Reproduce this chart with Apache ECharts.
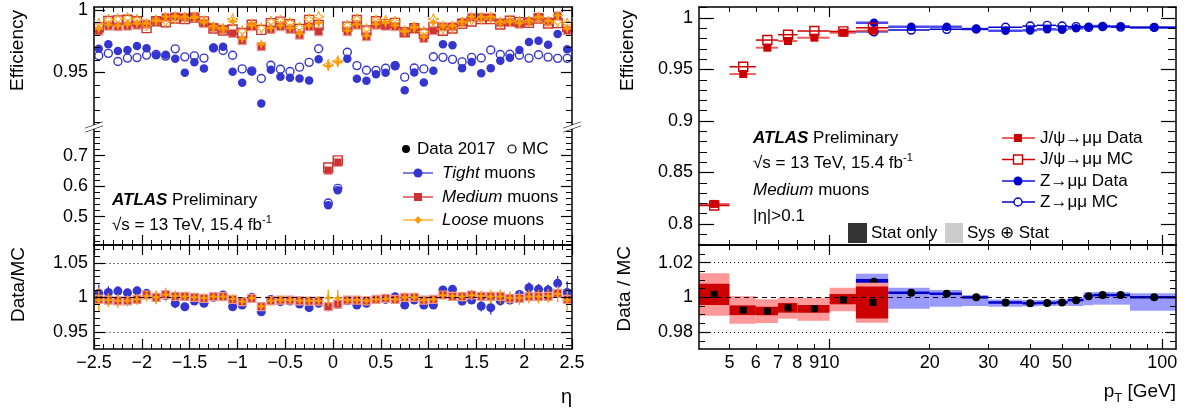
<!DOCTYPE html>
<html><head><meta charset="utf-8">
<script src="https://cdn.jsdelivr.net/npm/echarts@6/dist/echarts.min.js"></script>
<style>html,body{margin:0;padding:0;background:#fff}#c{width:1188px;height:414px}</style>
</head><body><div id="c"></div>
<script>
// ================= DATA =================
const etaCenters = [-2.45,-2.35,-2.25,-2.15,-2.05,-1.95,-1.85,-1.75,-1.65,-1.55,-1.45,-1.35,-1.25,-1.15,-1.05,-0.95,-0.85,-0.75,-0.65,-0.55,-0.45,-0.35,-0.25,-0.15,-0.05,0.05,0.15,0.25,0.35,0.45,0.55,0.65,0.75,0.85,0.95,1.05,1.15,1.25,1.35,1.45,1.55,1.65,1.75,1.85,1.95,2.05,2.15,2.25,2.35,2.45];
const etaTickLabels = [-2.5,-2,-1.5,-1,-0.5,0,0.5,1,1.5,2,2.5];

const tightData = [0.9689,0.9724,0.967,0.9678,0.971,0.9692,0.9636,0.9641,0.9609,0.9497,0.958,0.9532,0.9697,0.9705,0.9505,0.9417,0.9508,0.9252,0.9521,0.9465,0.9457,0.9452,0.9436,0.9604,0.538,0.587,0.9609,0.9449,0.9433,0.9486,0.9497,0.9556,0.9358,0.95,0.942,0.9513,0.9724,0.9716,0.9534,0.9582,0.9494,0.9534,0.9593,0.9617,0.9678,0.9742,0.9753,0.9721,0.9806,0.9684];
const tightMC = [0.9633,0.9652,0.9587,0.9614,0.9618,0.9638,0.9644,0.963,0.9688,0.9624,0.9632,0.9614,0.9695,0.9675,0.9637,0.9528,0.9512,0.9451,0.9557,0.9525,0.9507,0.9542,0.958,0.9689,0.545,0.593,0.9661,0.9554,0.9517,0.9516,0.9533,0.9552,0.9462,0.9535,0.9528,0.9625,0.962,0.9604,0.9584,0.962,0.9615,0.9679,0.9643,0.9645,0.9637,0.9614,0.9641,0.9622,0.9612,0.9612];
const mediumData = [0.983,0.987,0.9865,0.987,0.9878,0.9886,0.9908,0.994,0.9945,0.994,0.9937,0.9892,0.986,0.9844,0.9812,0.9753,0.9865,0.9705,0.9844,0.9865,0.9844,0.9798,0.9865,0.9825,0.652,0.678,0.9825,0.9878,0.9785,0.9878,0.987,0.9865,0.982,0.9852,0.9772,0.9833,0.9865,0.9865,0.9897,0.994,0.994,0.994,0.9897,0.9897,0.9886,0.9905,0.994,0.9905,0.995,0.9833];
const mediumMC = [0.986,0.991,0.9915,0.992,0.9908,0.9853,0.9908,0.99,0.993,0.9925,0.9937,0.9907,0.985,0.9834,0.9842,0.9815,0.988,0.9839,0.9893,0.9905,0.9884,0.9847,0.9919,0.9878,0.661,0.6846,0.9865,0.9918,0.9834,0.9908,0.9885,0.9895,0.982,0.9852,0.9811,0.9863,0.9832,0.985,0.9887,0.9906,0.9925,0.9925,0.9882,0.9912,0.9901,0.9895,0.993,0.989,0.9893,0.9863];
const looseData = [0.985,0.988,0.9875,0.9885,0.989,0.9895,0.9915,0.9945,0.995,0.9945,0.994,0.99,0.987,0.9855,0.9905,0.977,0.9875,0.9725,0.9855,0.9875,0.9855,0.981,0.9875,0.9895,0.955,0.958,0.9835,0.9885,0.9795,0.9885,0.9895,0.9875,0.983,0.986,0.9785,0.9897,0.9875,0.9875,0.9905,0.9945,0.9945,0.9945,0.9905,0.9905,0.9895,0.9915,0.9945,0.9915,0.9955,0.985];
const looseMC = [0.989,0.992,0.9925,0.9935,0.992,0.9875,0.9915,0.9905,0.993,0.9935,0.994,0.991,0.986,0.9845,0.9925,0.983,0.9885,0.9853,0.9905,0.9915,0.9895,0.986,0.9925,0.9945,0.956,0.959,0.9875,0.9925,0.9845,0.9915,0.9915,0.9905,0.983,0.986,0.9825,0.9927,0.9845,0.9855,0.9895,0.9915,0.9925,0.9935,0.9895,0.9915,0.9905,0.9905,0.9935,0.9895,0.9905,0.989];

const tightRatio = [1.0058,1.0072,1.0091,1.0065,1.0094,1.0058,1.0,1.0024,0.9913,0.9864,0.9946,0.9913,1.0,1.0034,0.9864,0.9888,1.0,0.979,0.997,0.9937,0.9946,0.9903,0.985,0.9913,0.9864,0.9896,0.995,0.9888,0.9913,0.997,0.997,1.001,0.9888,0.996,0.9888,0.9888,1.0106,1.0116,0.9946,0.996,0.9874,0.985,0.995,0.996,1.0043,1.0139,1.0116,1.0106,1.0203,1.0072];
const mediumRatio = [0.997,0.996,0.995,0.995,0.997,1.0034,1.0,1.004,1.0015,1.0015,1.0,0.9985,1.001,1.001,0.997,0.9937,0.9985,0.9864,0.995,0.996,0.996,0.995,0.9946,0.9946,0.9864,0.9903,0.996,0.996,0.995,0.997,0.9985,0.997,1.0,1.0,0.996,0.997,1.0034,1.0015,1.001,1.0034,1.0015,1.0015,1.0015,0.9985,0.9985,1.001,1.001,1.0015,1.0058,0.997];
const looseRatio = [0.996,0.996,0.995,0.995,0.997,1.002,1.0,1.004,1.002,1.001,1.0,0.999,1.001,1.001,0.998,0.994,0.999,0.987,0.995,0.996,0.996,0.995,0.995,0.995,0.999,0.999,0.996,0.996,0.995,0.997,0.998,0.997,1.0,1.0,0.996,0.997,1.003,1.002,1.001,1.003,1.002,1.001,1.001,0.999,0.999,1.001,1.001,1.002,1.005,0.996];
const tightRatioErr = [0.013,0.009,0.007,0.006,0.006,0.006,0.008,0.006,0.007,0.005,0.005,0.005,0.004,0.004,0.004,0.004,0.004,0.004,0.004,0.004,0.004,0.004,0.004,0.004,0.006,0.006,0.004,0.004,0.004,0.004,0.004,0.004,0.004,0.004,0.004,0.004,0.005,0.005,0.006,0.005,0.008,0.01,0.007,0.006,0.006,0.008,0.008,0.008,0.011,0.016];
const mediumRatioErr = [0.006,0.004,0.004,0.004,0.003,0.003,0.003,0.003,0.003,0.003,0.003,0.003,0.003,0.003,0.003,0.003,0.003,0.003,0.003,0.003,0.003,0.003,0.003,0.003,0.004,0.004,0.003,0.003,0.003,0.003,0.003,0.003,0.003,0.003,0.003,0.003,0.003,0.003,0.003,0.003,0.003,0.003,0.003,0.003,0.003,0.003,0.003,0.004,0.004,0.006];
const looseRatioErr = [0.018,0.01,0.01,0.008,0.008,0.008,0.01,0.01,0.008,0.006,0.005,0.005,0.005,0.005,0.005,0.005,0.005,0.005,0.005,0.005,0.005,0.005,0.005,0.005,0.012,0.012,0.005,0.005,0.005,0.005,0.005,0.005,0.005,0.005,0.005,0.005,0.006,0.006,0.007,0.008,0.008,0.01,0.01,0.01,0.01,0.01,0.01,0.01,0.012,0.015];

const jpsiLo = [4,5,6,7,8,10,12];
const jpsiHi = [5,6,7,8,10,12,15];
const jpsiPt = [4.5,5.5,6.5,7.5,9,11,13.5];
const jpsiData = [0.8195,0.9456,0.9712,0.9777,0.9809,0.9857,0.9877];
const jpsiMC = [0.818,0.9527,0.9786,0.9838,0.9874,0.987,0.9905];
const jpsiRatio = [1.0017,0.9927,0.9921,0.994,0.9935,0.9986,0.9971];
const jpsiStatLo = [0.9956,0.9898,0.9897,0.9912,0.9912,0.996,0.9879];
const jpsiStatHi = [1.0078,0.9954,0.9946,0.9967,0.9956,1.0019,1.0063];
const jpsiSysLo = [0.9894,0.9848,0.9852,0.9877,0.9866,0.992,0.9854];
const jpsiSysHi = [1.0138,1.0007,0.9989,1.0,0.9996,1.0055,1.0084];

const zLo = [12,15,20,25,30,38,42,48,52,58,62,70,80];
const zHi = [15,20,25,30,38,42,48,52,58,62,70,80,110];
const zPt = [13.6,17.6,22.5,27.6,33.8,40.1,45.1,50,55.1,60.1,66.2,75,94.6];
const zData = [0.9955,0.9916,0.9916,0.9893,0.9877,0.988,0.989,0.9887,0.99,0.9916,0.9922,0.9919,0.9909];
const zMC = [0.9866,0.9883,0.989,0.9893,0.991,0.9922,0.9929,0.9922,0.9916,0.9909,0.9916,0.9912,0.9909];
const zRatio = [1.009,1.0026,1.0021,1.0,0.9971,0.9966,0.9968,0.9971,0.9984,1.0006,1.0013,1.0013,1.0];
const zStatLo = [1.0075,1.0021,1.0016,0.9995,0.9966,0.9961,0.9963,0.9966,0.9979,1.0001,1.0008,1.0008,0.9995];
const zStatHi = [1.0105,1.0031,1.0026,1.0005,0.9976,0.9971,0.9973,0.9976,0.9989,1.0011,1.0018,1.0018,1.0005];
const zSysLo = [1.0045,0.9934,0.9946,0.995,0.9946,0.9948,0.995,0.9952,0.995,0.9955,0.9958,0.9958,0.9923];
const zSysHi = [1.0135,1.0055,1.0042,1.0013,0.9988,0.9985,0.9985,0.9988,0.9998,1.0029,1.0031,1.003,1.0023];
const ptTickLabels = [5,6,7,8,9,10,20,30,40,50,100];

// ================= STYLE / LAYOUT =================
const FONT = '"Liberation Sans", Arial, Helvetica, sans-serif';
const BLUE = '#3535cf', RED = '#cc3333', ORANGE = '#ff9a00';
const JRED = '#cc0000', ZBLUE = '#0000cc';
const CLEAR = 'rgba(0,0,0,0)';
const STAR = 'path://M0,-6L1.6,-1.6L6,0L1.6,1.6L0,6L-1.6,1.6L-6,0L-1.6,-1.6Z';
const lg = v => Math.log10(v);
function rng(a, b, s) { const r = []; for (let v = a; v <= b + 1e-9; v += s) r.push(Math.round(v * 1e6) / 1e6); return r; }
const fmtNum = v => String(Math.round(v * 10000) / 10000);
const fmtEta = v => { const r = Math.round(v * 10) / 10; return r < 0 ? '\u2212' + Math.abs(r) : String(r); };
const fmtPt = v => String(Math.round(Math.pow(10, v)));

const grid = [
  {left:94, width:478, top:7, height:119},
  {left:94, width:478, top:126, height:119},
  {left:94, width:478, top:245, height:104},
  {left:699, width:477, top:7, height:238},
  {left:699, width:477, top:245, height:104}
].map(g => Object.assign({show:false, containLabel:false, outerBoundsMode:'none'}, g));

const xAxis = [], yAxis = [];
function mkAxis(g, pos, min, max, o) {
  const isX = (pos === 'top' || pos === 'bottom');
  const list = isX ? xAxis : yAxis;
  const common = {type:'value', gridIndex:g, position:pos, min, max, scale:true, silent:true,
    splitLine:{show:false}, splitArea:{show:false}, axisPointer:{show:false}, z:10};
  list.push(Object.assign({}, common, {
    axisLine:{show:o.line !== false, onZero:false, lineStyle:{color:'#000', width:1.5}},
    axisTick:o.major ? {show:true, inside:true, length:o.majorLen || 10, customValues:o.major, lineStyle:{color:'#000', width:1.2}} : {show:false},
    axisLabel:o.labels ? {show:true, customValues:o.labels, formatter:o.fmt || fmtNum, color:'#000', fontFamily:FONT, fontSize:18, margin:o.margin || 6, hideOverlap:false} : {show:false}
  }));
  const idx = list.length - 1;
  if (o.minor) list.push(Object.assign({}, common, {
    axisLine:{show:false, onZero:false},
    axisTick:{show:true, inside:true, length:o.minorLen || 5, customValues:o.minor, lineStyle:{color:'#000', width:1}},
    axisLabel:{show:false}
  }));
  return idx;
}

const etaMaj = rng(-2.5, 2.5, 0.5), etaMin = rng(-2.5, 2.5, 0.1);
const E0 = -2.5, E1 = 2.5;
const P0 = lg(4.05), P1 = lg(110);
const ptMaj = [10, 100].map(lg), ptMin = [5,6,7,8,9,20,30,40,50,60,70,80,90].map(lg);

// grid 0 : upper efficiency section (left)
const X0 = mkAxis(0, 'bottom', E0, E1, {line:false});
mkAxis(0, 'top', E0, E1, {major:etaMaj, minor:etaMin, majorLen:10, minorLen:5});
const Y0 = mkAxis(0, 'left', 0.9072, 1.0022, {major:[0.95,1], minor:rng(0.91,1,0.01), labels:[0.95,1], majorLen:11, minorLen:6});
mkAxis(0, 'right', 0.9072, 1.0022, {major:[0.95,1], minor:rng(0.91,1,0.01), majorLen:11, minorLen:6});
// grid 1 : lower efficiency section (left)
const X1 = mkAxis(1, 'bottom', E0, E1, {major:etaMaj, minor:etaMin, majorLen:10, minorLen:5});
const Y1 = mkAxis(1, 'left', 0.4075, 0.797, {major:[0.5,0.6,0.7], minor:rng(0.42,0.78,0.02), labels:[0.5,0.6,0.7], majorLen:11, minorLen:6});
mkAxis(1, 'right', 0.4075, 0.797, {major:[0.5,0.6,0.7], minor:rng(0.42,0.78,0.02), majorLen:11, minorLen:6});
// grid 2 : ratio (left)
const X2 = mkAxis(2, 'bottom', E0, E1, {major:etaMaj, minor:etaMin, labels:etaTickLabels, fmt:fmtEta, majorLen:10, minorLen:5, margin:5});
mkAxis(2, 'top', E0, E1, {major:etaMaj, minor:etaMin, majorLen:10, minorLen:5});
const Y2 = mkAxis(2, 'left', 0.925, 1.076, {major:[0.95,1,1.05], minor:rng(0.93,1.07,0.01), labels:[0.95,1,1.05], majorLen:11, minorLen:6});
mkAxis(2, 'right', 0.925, 1.076, {major:[0.95,1,1.05], minor:rng(0.93,1.07,0.01), majorLen:11, minorLen:6});
// grid 3 : efficiency (right)
const X3 = mkAxis(3, 'bottom', P0, P1, {major:ptMaj, minor:ptMin, majorLen:10, minorLen:5});
mkAxis(3, 'top', P0, P1, {major:ptMaj, minor:ptMin, majorLen:10, minorLen:5});
const Y3 = mkAxis(3, 'left', 0.7796, 1.0107, {major:[0.8,0.85,0.9,0.95,1], minor:rng(0.78,1.01,0.01), labels:[0.8,0.85,0.9,0.95,1], majorLen:15, minorLen:8});
mkAxis(3, 'right', 0.7796, 1.0107, {major:[0.8,0.85,0.9,0.95,1], minor:rng(0.78,1.01,0.01), majorLen:15, minorLen:8});
// grid 4 : ratio (right)
const X4 = mkAxis(4, 'bottom', P0, P1, {major:ptMaj, minor:ptMin, labels:ptTickLabels.map(lg), fmt:fmtPt, majorLen:10, minorLen:5, margin:5});
mkAxis(4, 'top', P0, P1, {major:ptMaj, minor:ptMin, majorLen:10, minorLen:5});
const Y4 = mkAxis(4, 'left', 0.9703, 1.0301, {major:[0.98,1,1.02], minor:rng(0.975,1.03,0.005), labels:[0.98,1,1.02], majorLen:11, minorLen:6});
mkAxis(4, 'right', 0.9703, 1.0301, {major:[0.98,1,1.02], minor:rng(0.975,1.03,0.005), majorLen:11, minorLen:6});

// ================= SERIES =================
const series = [];
const pts = (xs, ys) => xs.map((x, i) => [x, ys[i]]);
function sc(xi, yi, data, o) {
  series.push({type:'scatter', xAxisIndex:xi, yAxisIndex:yi, data, symbol:o.symbol, symbolSize:o.size,
    silent:true, clip:true, z:o.z || 3, animation:false,
    itemStyle:{color:o.fill, borderColor:o.stroke || o.fill, borderWidth:o.bw || 0, opacity:1}});
}
function errs(xi, yi, rows, color, width, z) {
  series.push({type:'custom', xAxisIndex:xi, yAxisIndex:yi, data:rows, clip:true, silent:true, z:z || 2, animation:false,
    encode:{x:[0,2,3], y:[1,4,5]},
    renderItem:(p, api) => {
      const x = api.value(0), y = api.value(1), x0 = api.value(2), x1 = api.value(3), y0 = api.value(4), y1 = api.value(5);
      const ch = [];
      if (x1 > x0) { const a = api.coord([x0, y]), b = api.coord([x1, y]); ch.push({type:'line', shape:{x1:a[0], y1:a[1], x2:b[0], y2:b[1]}, style:{stroke:color, lineWidth:width}}); }
      if (y1 > y0) { const a = api.coord([x, y0]), b = api.coord([x, y1]); ch.push({type:'line', shape:{x1:a[0], y1:a[1], x2:b[0], y2:b[1]}, style:{stroke:color, lineWidth:width}}); }
      return {type:'group', children:ch};
    }});
}
function bands(xi, yi, rows, color, minH, z) {
  series.push({type:'custom', xAxisIndex:xi, yAxisIndex:yi, data:rows, clip:true, silent:true, z:z || 1, animation:false,
    encode:{x:[0,1], y:[2,3]},
    renderItem:(p, api) => {
      const a = api.coord([api.value(0), api.value(3)]), b = api.coord([api.value(1), api.value(2)]);
      let y = a[1], h = b[1] - a[1];
      if (h < minH) { y -= (minH - h) / 2; h = minH; }
      return {type:'rect', shape:{x:a[0], y:y, width:b[0] - a[0], height:h}, style:{fill:color}};
    }});
}
function refLines(xi, yi, xa, xb, xf0, xf1, dotted, dashed) {
  const data = dotted.map(v => [{coord:[xa, v], lineStyle:{type:[1,3], color:'#000', width:1}}, {coord:[xb, v]}]);
  data.push([{coord:[xf0, dashed], lineStyle:{type:[5,4], color:'#000', width:1}}, {coord:[xf1, dashed]}]);
  series.push({type:'scatter', xAxisIndex:xi, yAxisIndex:yi, data:[], silent:true, z:2,
    markLine:{silent:true, symbol:['none','none'], label:{show:false}, animation:false, data}});
}

// left efficiency (both sections)
[[X0, Y0], [X1, Y1]].forEach(([xi, yi]) => {
  sc(xi, yi, pts(etaCenters, tightData), {symbol:'circle', size:8.5, fill:BLUE});
  sc(xi, yi, pts(etaCenters, tightMC), {symbol:'circle', size:8, fill:CLEAR, stroke:BLUE, bw:1.4});
  sc(xi, yi, pts(etaCenters, mediumData), {symbol:'rect', size:8, fill:RED, stroke:'#e89a9a', bw:1.2});
  sc(xi, yi, pts(etaCenters, mediumMC), {symbol:'rect', size:9, fill:CLEAR, stroke:RED, bw:1.4});
  sc(xi, yi, pts(etaCenters, looseData), {symbol:STAR, size:11, fill:ORANGE, z:4});
  sc(xi, yi, pts(etaCenters, looseMC), {symbol:STAR, size:11, fill:CLEAR, stroke:ORANGE, bw:1, z:4});
});

// left ratio
refLines(X2, Y2, -2.38, 2.38, E0, E1, [0.95, 1.05], 1);
errs(X2, Y2, etaCenters.map((e, i) => [e, tightRatio[i], e, e, tightRatio[i] - tightRatioErr[i], tightRatio[i] + tightRatioErr[i]]), BLUE, 1.3, 3);
sc(X2, Y2, pts(etaCenters, tightRatio), {symbol:'circle', size:9, fill:BLUE, z:3});
errs(X2, Y2, etaCenters.map((e, i) => [e, mediumRatio[i], e, e, mediumRatio[i] - mediumRatioErr[i], mediumRatio[i] + mediumRatioErr[i]]), '#e07070', 1.3, 4);
sc(X2, Y2, pts(etaCenters, mediumRatio), {symbol:'rect', size:8, fill:RED, stroke:'#e89a9a', bw:1.2, z:4});
errs(X2, Y2, etaCenters.map((e, i) => [e, looseRatio[i], e, e, looseRatio[i] - looseRatioErr[i], looseRatio[i] + looseRatioErr[i]]), ORANGE, 1.3, 5);
sc(X2, Y2, pts(etaCenters, looseRatio), {symbol:STAR, size:10, fill:ORANGE, z:5});

// right efficiency
errs(X3, Y3, zPt.map((p, i) => [lg(p), zData[i], lg(zLo[i]), lg(zHi[i]), zData[i], zData[i]]), '#4a4aee', 2.5, 2);
errs(X3, Y3, zPt.map((p, i) => [lg(p), zMC[i], lg(zLo[i]), lg(zHi[i]), zMC[i], zMC[i]]), ZBLUE, 1.5, 2);
errs(X3, Y3, jpsiPt.map((p, i) => [lg(p), jpsiData[i], lg(jpsiLo[i]), lg(jpsiHi[i]), jpsiData[i], jpsiData[i]]), '#e86060', 2, 2);
errs(X3, Y3, jpsiPt.map((p, i) => [lg(p), jpsiMC[i], lg(jpsiLo[i]), lg(jpsiHi[i]), jpsiMC[i], jpsiMC[i]]), JRED, 1.5, 2);
sc(X3, Y3, pts(zPt.map(lg), zData), {symbol:'circle', size:8.5, fill:ZBLUE});
sc(X3, Y3, pts(zPt.map(lg), zMC), {symbol:'circle', size:8, fill:CLEAR, stroke:ZBLUE, bw:1.4});
sc(X3, Y3, pts(jpsiPt.map(lg), jpsiData), {symbol:'rect', size:8, fill:JRED, z:4});
sc(X3, Y3, pts(jpsiPt.map(lg), jpsiMC), {symbol:'rect', size:9, fill:CLEAR, stroke:JRED, bw:1.4, z:4});

// right ratio
refLines(X4, Y4, lg(4.37), lg(102.6), P0, P1, [0.98, 1.02], 1);
bands(X4, Y4, zLo.map((lo, i) => [lg(lo), lg(zHi[i]), zSysLo[i], zSysHi[i]]), '#9999ff', 0, 1);
bands(X4, Y4, zLo.map((lo, i) => [lg(lo), lg(zHi[i]), zStatLo[i], zStatHi[i]]), ZBLUE, 2.5, 1);
sc(X4, Y4, pts(zPt.map(lg), zRatio), {symbol:'circle', size:8, fill:'#000', z:3});
bands(X4, Y4, jpsiLo.map((lo, i) => [lg(lo), lg(jpsiHi[i]), jpsiSysLo[i], jpsiSysHi[i]]), '#ff9999', 0, 4);
bands(X4, Y4, jpsiLo.map((lo, i) => [lg(lo), lg(jpsiHi[i]), jpsiStatLo[i], jpsiStatHi[i]]), JRED, 0, 4);
sc(X4, Y4, pts(jpsiPt.map(lg), jpsiRatio), {symbol:'rect', size:7, fill:'#000', z:5});

// ================= TEXT / LEGENDS =================
const G = [];
function txt(x, y, text, st, el) {
  G.push(Object.assign({type:'text', x, y, z:100, silent:true,
    style:Object.assign({text, fill:'#000', fontFamily:FONT, fontSize:17, align:'left', verticalAlign:'middle'}, st || {})}, el || {}));
}
const rich = {
  b:{fontFamily:FONT, fontSize:17, fontWeight:'bold', fontStyle:'italic'},
  i:{fontFamily:FONT, fontSize:17, fontStyle:'italic'},
  sup:{fontFamily:FONT, fontSize:11, padding:[0,0,11,0]},
  sub:{fontFamily:FONT, fontSize:13, padding:[12,0,0,0]}
};
function line(x1, y1, x2, y2, stroke, w) { G.push({type:'line', z:100, silent:true, shape:{x1, y1, x2, y2}, style:{stroke, lineWidth:w}}); }

// axis titles
txt(18, 10, 'Efficiency', {align:'right', fontSize:19}, {rotation:Math.PI / 2});
txt(19, 247, 'Data/MC', {align:'right', fontSize:19}, {rotation:Math.PI / 2});
txt(628, 10, 'Efficiency', {align:'right', fontSize:19}, {rotation:Math.PI / 2});
txt(625, 246, 'Data / MC', {align:'right', fontSize:19}, {rotation:Math.PI / 2});
txt(572, 397, '\u03b7', {align:'right', fontSize:20});
txt(1176, 392, 'p{sub|T} [GeV]', {align:'right', fontSize:19, rich});

// left labels
txt(112, 200, '{b|ATLAS} Preliminary', {rich});
txt(112, 225, '\u221as = 13 TeV, 15.4 fb{sup|-1}', {rich});
G.push({type:'circle', z:100, silent:true, shape:{cx:406, cy:149, r:4}, style:{fill:'#000'}});
txt(417, 149, 'Data 2017');
G.push({type:'circle', z:100, silent:true, shape:{cx:512, cy:149, r:4}, style:{fill:'none', stroke:'#000', lineWidth:1.2}});
txt(522, 149, 'MC');
line(403, 173, 433, 173, '#8080e0', 2);
G.push({type:'circle', z:101, silent:true, shape:{cx:418, cy:173, r:4.5}, style:{fill:BLUE}});
txt(442, 173, '{i|Tight} muons', {rich});
line(403, 197, 433, 197, '#e07a7a', 2);
G.push({type:'rect', z:101, silent:true, shape:{x:414, y:193, width:8, height:8}, style:{fill:RED}});
txt(442, 197, '{i|Medium} muons', {rich});
line(403, 220, 433, 220, '#ffc266', 2);
G.push({type:'polygon', z:101, silent:true, shape:{points:[[418,216],[421.5,220],[418,224],[414.5,220]]}, style:{fill:ORANGE}});
txt(442, 220, '{i|Loose} muons', {rich});

// axis break marks
[[94, 126], [572, 126]].forEach(([cx, cy]) => {
  G.push({type:'polygon', z:110, silent:true, shape:{points:[[cx - 9, cy + 2.5],[cx + 9, cy - 4],[cx + 9, cy - 0.5],[cx - 9, cy + 6]]}, style:{fill:'#fff'}});
  line(cx - 9, cy + 2.5, cx + 9, cy - 4, '#000', 1.2);
  line(cx - 9, cy + 6, cx + 9, cy - 0.5, '#000', 1.2);
});

// right labels
txt(753, 138.5, '{b|ATLAS} Preliminary', {rich});
txt(753, 163.5, '\u221as = 13 TeV, 15.4 fb{sup|-1}', {rich});
txt(753, 190, '{i|Medium} muons', {rich});
txt(753, 216, '|\u03b7|>0.1');
line(1002, 138, 1035, 138, '#e86060', 2);
G.push({type:'rect', z:101, silent:true, shape:{x:1014, y:134, width:8, height:8}, style:{fill:JRED}});
txt(1040, 138, 'J/\u03c8\u2192\u03bc\u03bc Data');
line(1002, 159.5, 1035, 159.5, JRED, 1.5);
G.push({type:'rect', z:101, silent:true, shape:{x:1013.5, y:155, width:9, height:9}, style:{fill:'#fff', stroke:JRED, lineWidth:1.4}});
txt(1040, 159.5, 'J/\u03c8\u2192\u03bc\u03bc MC');
line(1002, 181, 1035, 181, '#4a4aee', 2);
G.push({type:'circle', z:101, silent:true, shape:{cx:1018, cy:181, r:4.5}, style:{fill:ZBLUE}});
txt(1040, 181, 'Z\u2192\u03bc\u03bc Data');
line(1002, 202, 1035, 202, ZBLUE, 1.5);
G.push({type:'circle', z:101, silent:true, shape:{cx:1018, cy:202, r:4}, style:{fill:'#fff', stroke:ZBLUE, lineWidth:1.4}});
txt(1040, 202, 'Z\u2192\u03bc\u03bc MC');
G.push({type:'rect', z:101, silent:true, shape:{x:848, y:223, width:19, height:20}, style:{fill:'#333'}});
txt(871, 233, 'Stat only');
G.push({type:'rect', z:101, silent:true, shape:{x:945, y:223, width:18, height:20}, style:{fill:'#ccc'}});
txt(967, 233, 'Sys \u2295 Stat');

const chart = echarts.init(document.getElementById('c'), null, {renderer:'canvas', width:1188, height:414});
chart.setOption({
  animation:false,
  backgroundColor:'#fff',
  textStyle:{fontFamily:FONT},
  grid, xAxis, yAxis, series,
  graphic:{elements:G}
});
</script></body></html>
